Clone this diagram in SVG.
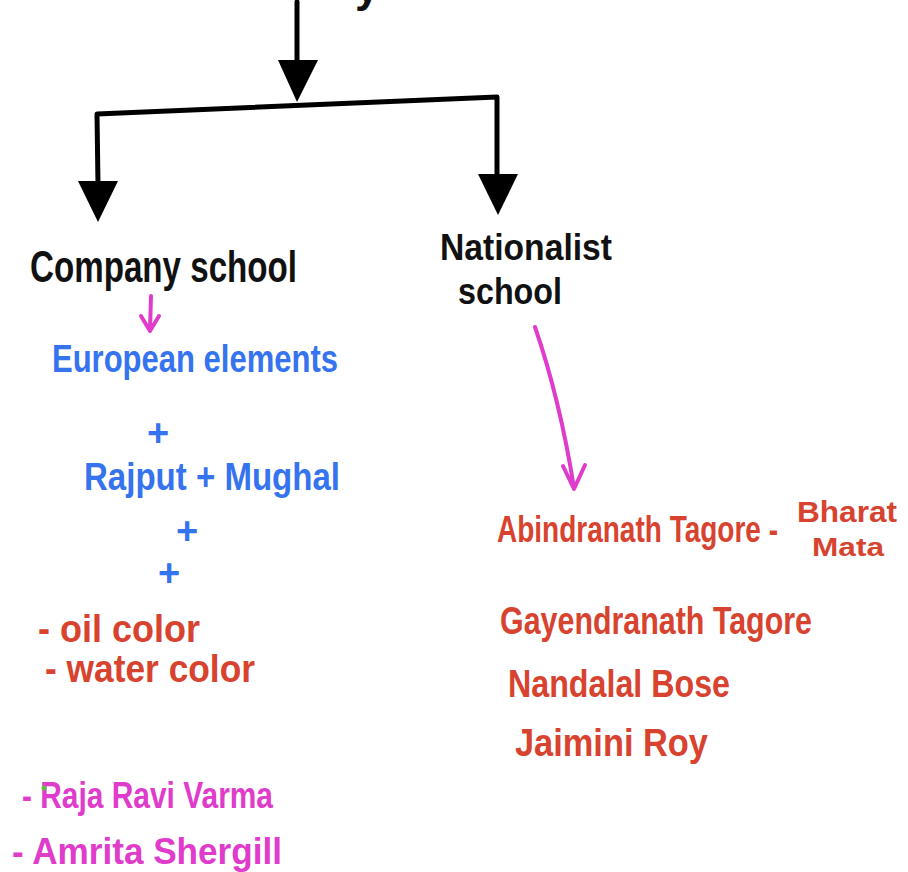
<svg xmlns="http://www.w3.org/2000/svg" width="908" height="872" viewBox="0 0 908 872">
  <style>
    text { font-family: "Liberation Sans", "DejaVu Sans", sans-serif; font-weight: bold; }
    .ink { fill: #111; font-size: 44px; }
    .blue { fill: #3673ee; font-size: 38px; }
    .red { fill: #d8432f; font-size: 38px; }
    .pink { fill: #e03ccb; font-size: 36px; }
    .stroke { fill: none; stroke: #000; stroke-width: 5; stroke-linecap: round; stroke-linejoin: round; }
    .head { fill: #000; }
    .pinkline { fill: none; stroke: #e03ccb; stroke-width: 4; stroke-linecap: round; stroke-linejoin: round; }
  </style>
  <rect width="908" height="872" fill="#fff"/>

  <!-- descender of the heading above -->
  <text x="355" y="2" class="ink">y</text>

  <g id="connectors">
    <!-- trunk -->
    <line class="stroke" x1="297" y1="2" x2="297" y2="62"/>
    <polygon class="head" points="278,60 318,60 297,102"/>
    <!-- branch bar -->
    <polyline class="stroke" points="98,185 97,114 497,97 497,176"/>
    <polygon class="head" points="78,181 118,181 98,222"/>
    <polygon class="head" points="478,174 518,174 498,215"/>
    <!-- pink pointers -->
    <path class="pinkline" d="M151,296 L150,330 M141,316 L150,331 L159,316"/>
    <path class="pinkline" d="M535,327 Q560,400 574,488 M563,466 L574,489 L585,465"/>
  </g>

  <g id="company">
    <text x="30" y="282" class="ink" textLength="267" lengthAdjust="spacingAndGlyphs">Company school</text>
  </g>

  <g id="company-details">
    <text x="52" y="372" class="blue" textLength="286" lengthAdjust="spacingAndGlyphs">European elements</text>
    <text x="147" y="446" class="blue">+</text>
    <text x="84" y="490" class="blue" textLength="256" lengthAdjust="spacingAndGlyphs">Rajput + Mughal</text>
    <text x="176" y="544" class="blue">+</text>
    <text x="158" y="586" class="blue">+</text>
    <text x="38" y="642" class="red" textLength="162" lengthAdjust="spacingAndGlyphs">- oil color</text>
    <text x="45" y="682" class="red" textLength="210" lengthAdjust="spacingAndGlyphs">- water color</text>
  </g>

  <g id="artists-left">
    <text x="22" y="808" class="pink" textLength="251" lengthAdjust="spacingAndGlyphs">- Raja Ravi Varma</text>
    <circle cx="44" cy="788" r="2.5" fill="#5bbf4a"/>
    <text x="12" y="864" class="pink" textLength="270" lengthAdjust="spacingAndGlyphs">- Amrita Shergill</text>
  </g>

  <g id="nationalist">
    <text x="440" y="260" class="ink" style="font-size:36px" textLength="172" lengthAdjust="spacingAndGlyphs">Nationalist</text>
    <text x="458" y="304" class="ink" style="font-size:36px" textLength="104" lengthAdjust="spacingAndGlyphs">school</text>
  </g>

  <g id="nationalist-artists">
    <!-- tall, narrow lettering so the line ends before "Bharat" -->
    <text class="red" style="font-size:28px" transform="translate(497,542) scale(1,1.3)">Abindranath Tagore -</text>
    <text class="red" style="font-size:29px" x="797" y="522" textLength="100" lengthAdjust="spacingAndGlyphs">Bharat</text>
    <text class="red" style="font-size:25px" x="812" y="556" textLength="72" lengthAdjust="spacingAndGlyphs">Mata</text>
    <text x="500" y="634" class="red" textLength="312" lengthAdjust="spacingAndGlyphs">Gayendranath Tagore</text>
    <text x="508" y="697" class="red" textLength="222" lengthAdjust="spacingAndGlyphs">Nandalal Bose</text>
    <text x="515" y="756" class="red" textLength="193" lengthAdjust="spacingAndGlyphs">Jaimini Roy</text>
  </g>
</svg>
